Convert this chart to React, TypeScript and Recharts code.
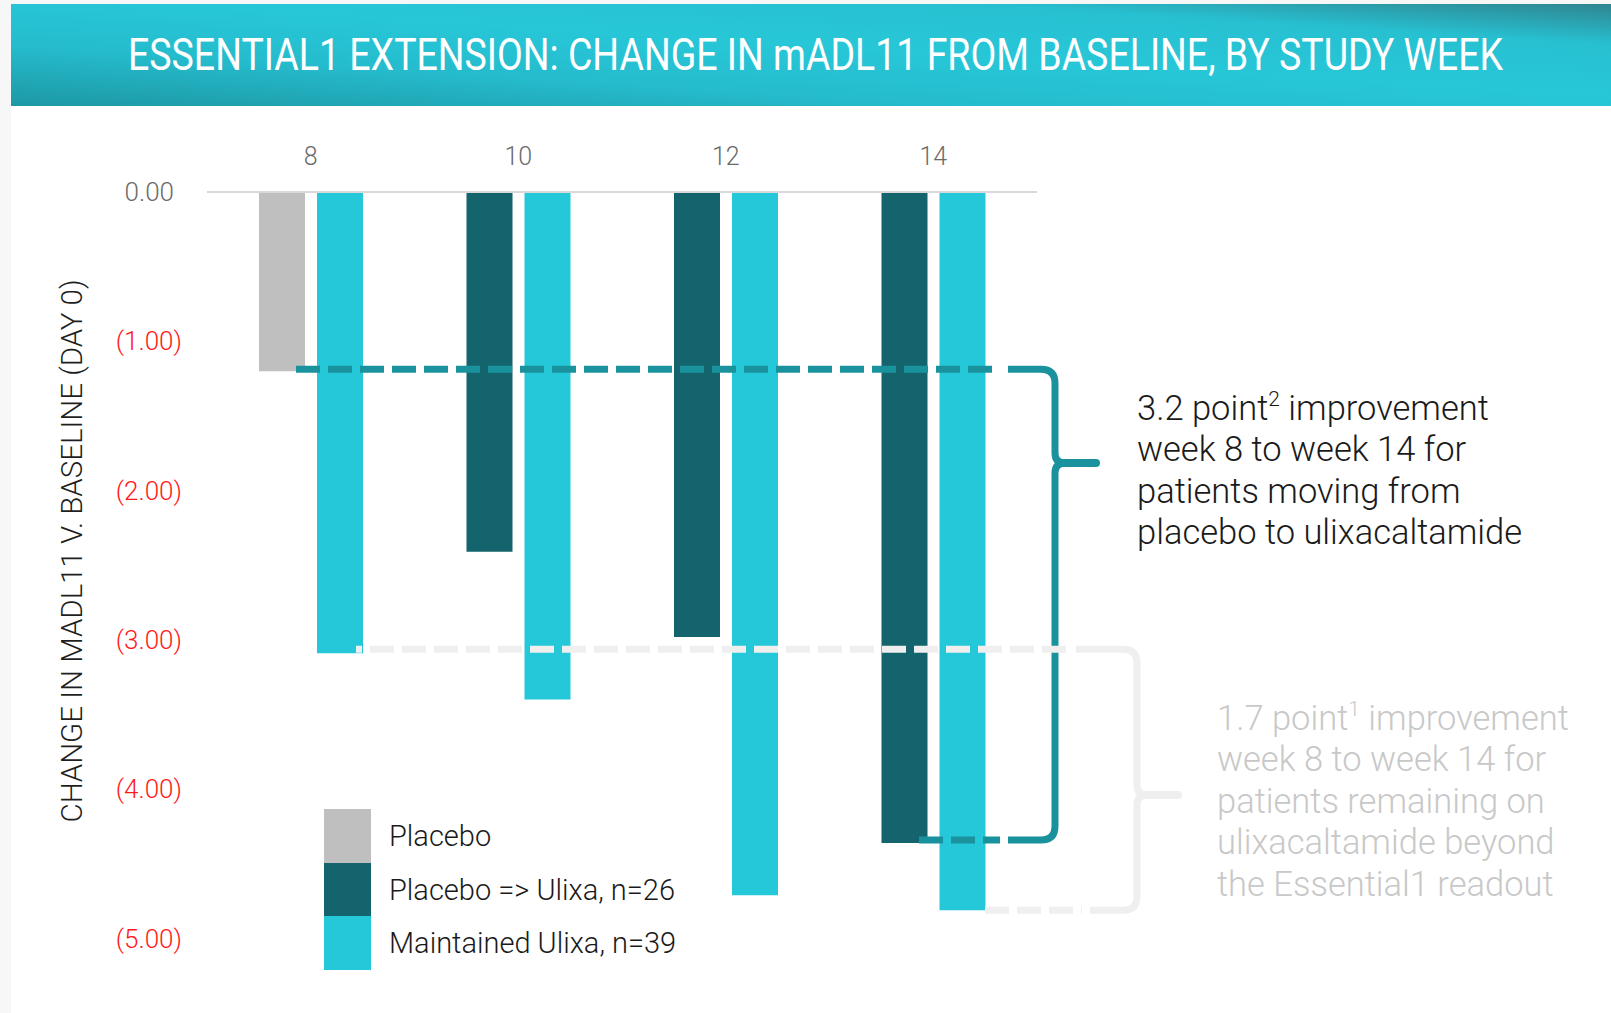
import React from 'react';
import { BarChart, Bar, XAxis, YAxis, ReferenceLine } from 'recharts';

// study weeks and change in mADL11 from day 0
const weeks = ['8', '10', '12', '14'];
const placebo = [-1.2, null, null, null];
const placeboToUlixa = [null, -2.41, -2.98, -4.36];
const maintained = [-3.09, -3.4, -4.71, -4.81];
const yTicks = [0, -1, -2, -3, -4, -5];

const series = [
  { key: 'placebo', name: 'Placebo', color: '#bfbfbf', stack: 'left' },
  { key: 'placeboToUlixa', name: 'Placebo => Ulixa, n=26', color: '#13646c', stack: 'left' },
  { key: 'maintained', name: 'Maintained Ulixa, n=39', color: '#25c8d9', stack: 'right' },
];

const data = weeks.map((w, i) => ({
  week: w,
  placebo: placebo[i],
  placeboToUlixa: placeboToUlixa[i],
  maintained: maintained[i],
}));

const W = 1611;
const H = 1013;
const PLOT_TOP = 192;
const PLOT_BOTTOM = 938.5;
const Y_MIN = -5;
const FONT = 'Roboto, "Noto Sans", sans-serif';

// same linear mapping as the chart's y axis, used for the bracket overlay
const yOf = (v: number) => PLOT_TOP + (v / Y_MIN) * (PLOT_BOTTOM - PLOT_TOP);

const YTick = (props: any) => {
  const { x, y, payload } = props;
  const v = payload.value;
  const zero = v === 0;
  return (
    <text
      x={zero ? x - 8 : x}
      y={y}
      dy="0.35em"
      textAnchor="end"
      fill={zero ? '#6b6b6b' : '#ff1a1a'}
      fontSize={26}
      fontWeight={300}
      fontFamily={FONT}
    >
      {zero ? '0.00' : `(${Math.abs(v).toFixed(2)})`}
    </text>
  );
};

const XTick = (props: any) => {
  const { x, y, payload } = props;
  return (
    <text x={x} y={y} dy="0.35em" textAnchor="middle" fill="#6b6b6b" fontSize={25} fontWeight={300} fontFamily={FONT}>
      {payload.value}
    </text>
  );
};

const Bracket = ({ color, xStart, xDashEnd, yTop, yBot, xBotStart, xBotDashEnd, xv, tipY, tipX, offset = 0 }: any) => {
  const r = 14;
  return (
    <g fill="none" stroke={color} strokeWidth={7}>
      <line x1={xStart} y1={yTop} x2={xDashEnd} y2={yTop} strokeDasharray="24 8" strokeDashoffset={offset} />
      <line x1={xBotStart} y1={yBot} x2={xBotDashEnd} y2={yBot} strokeDasharray="24 8" />
      <path
        d={`M ${xDashEnd + 8} ${yTop} H ${xv - r} Q ${xv} ${yTop} ${xv} ${yTop + r} V ${tipY - 10} Q ${xv} ${tipY} ${xv + 10} ${tipY}`}
      />
      <path d={`M ${xv + 10} ${tipY} H ${tipX}`} strokeLinecap="round" strokeWidth={8} />
      <path
        d={`M ${xv + 10} ${tipY} Q ${xv} ${tipY} ${xv} ${tipY + 10} V ${yBot - r} Q ${xv} ${yBot} ${xv - r} ${yBot} H ${xBotDashEnd + 8}`}
      />
    </g>
  );
};

const App: React.FC = () => {
  const title = 'ESSENTIAL1 EXTENSION: CHANGE IN mADL11 FROM BASELINE, BY STUDY WEEK';
  return (
    <div style={{ position: 'relative', width: W, height: H, background: '#f7f7f7', fontFamily: FONT }}>
      <style>{`body{margin:0}`}</style>
      <div style={{ position: 'absolute', left: 11, top: 106, right: 0, bottom: 0, background: '#fff' }} />

      <div style={{ position: 'absolute', left: 0, top: 0 }}>
        <BarChart
          width={W}
          height={H}
          data={data}
          margin={{ top: PLOT_TOP - 40, right: 574, bottom: H - PLOT_BOTTOM, left: 0 }}
          barSize={46}
          barGap={12}
        >
          <XAxis
            dataKey="week"
            orientation="top"
            height={40}
            axisLine={false}
            tickLine={false}
            tickSize={0}
            tickMargin={36}
            tick={<XTick />}
          />
          <YAxis
            width={207}
            domain={[Y_MIN, 0]}
            ticks={yTicks}
            axisLine={false}
            tickLine={false}
            tickSize={0}
            tickMargin={25}
            tick={<YTick />}
          />
          <ReferenceLine y={0} stroke="#d9d9d9" strokeWidth={2} />
          {series.map((s) => (
            <Bar key={s.key} dataKey={s.key} name={s.name} stackId={s.stack} fill={s.color} isAnimationActive={false} />
          ))}
        </BarChart>
      </div>

      <svg width={W} height={H} style={{ position: 'absolute', left: 0, top: 0, pointerEvents: 'none' }}>
        <defs>
          <linearGradient id="banner" x1="0" y1="1" x2="1" y2="0">
            <stop offset="0" stopColor="#1d98a5" />
            <stop offset="0.3" stopColor="#25bccd" />
            <stop offset="0.55" stopColor="#27c7d8" />
            <stop offset="0.8" stopColor="#27c0d1" />
            <stop offset="1" stopColor="#2f8590" />
          </linearGradient>
        </defs>
        <rect x={11} y={4} width={W - 11} height={102} fill="url(#banner)" />
        {/* condensed look: smaller font stretched vertically */}
        <text
          transform="translate(815.5 70) scale(1 1.26)"
          textAnchor="middle"
          fill="#fff"
          fontSize={35}
          fontWeight={400}
          fontFamily={FONT}
          textLength={1375}
          lengthAdjust="spacingAndGlyphs"
        >
          {title}
        </text>

        <text
          transform="translate(82 551) rotate(-90)"
          textAnchor="middle"
          fill="#1f1f1f"
          fontSize={29}
          fontWeight={300}
          fontFamily={FONT}
          textLength={543}
          lengthAdjust="spacingAndGlyphs"
        >
          CHANGE IN MADL11 V. BASELINE (DAY 0)
        </text>

        <Bracket
          color="#1a929e"
          xStart={296}
          xDashEnd={1000}
          yTop={yOf(placebo[0] as number) - 2}
          yBot={yOf(placeboToUlixa[3] as number) - 3}
          xBotStart={919}
          xBotDashEnd={1000}
          xv={1055}
          tipY={463}
          tipX={1096}
        />
        <Bracket
          color="#efefef"
          xStart={356}
          xDashEnd={1068}
          yTop={yOf(maintained[0]) - 4}
          yBot={yOf(maintained[3])}
          xBotStart={985}
          xBotDashEnd={1082}
          xv={1137}
          tipY={795}
          tipX={1178}
          offset={18}
        />

        <g fontFamily={FONT} fontWeight={300} fontSize={34.5} fill="#1a1a1a">
          <text x={1137} y={420}>
            3.2 point<tspan dy={-14} fontSize={21}>2</tspan>
            <tspan dy={14}> improvement</tspan>
          </text>
          <text x={1137} y={461}>week 8 to week 14 for</text>
          <text x={1137} y={503}>patients moving from</text>
          <text x={1137} y={544}>placebo to ulixacaltamide</text>
        </g>
        <g fontFamily={FONT} fontWeight={300} fontSize={34.5} fill="#c8c8c8">
          <text x={1217} y={730}>
            1.7 point<tspan dy={-14} fontSize={21}>1</tspan>
            <tspan dy={14}> improvement</tspan>
          </text>
          <text x={1217} y={771}>week 8 to week 14 for</text>
          <text x={1217} y={813}>patients remaining on</text>
          <text x={1217} y={854}>ulixacaltamide beyond</text>
          <text x={1217} y={896}>the Essential1 readout</text>
        </g>
      </svg>

      <div style={{ position: 'absolute', left: 324, top: 809 }}>
        {series.map((s) => (
          <div key={s.key} style={{ display: 'flex', alignItems: 'center', height: 53.7 }}>
            <div style={{ width: 47, height: 53.7, background: s.color }} />
            <span style={{ marginLeft: 18, fontSize: 29, fontWeight: 300, color: '#1a1a1a', whiteSpace: 'nowrap' }}>
              {s.name}
            </span>
          </div>
        ))}
      </div>
    </div>
  );
};

export default App;
